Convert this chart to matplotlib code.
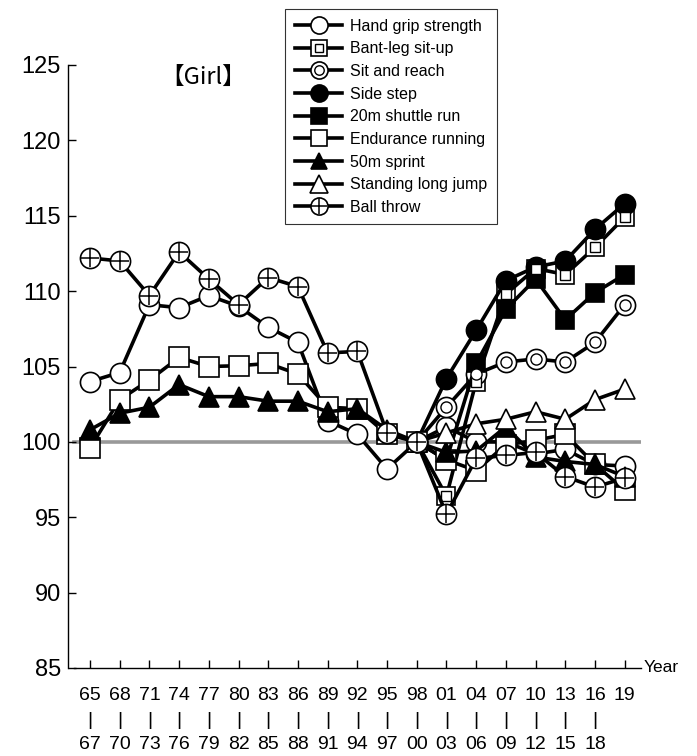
import numpy as np
import matplotlib
matplotlib.use("Agg")
import matplotlib.pyplot as plt
from matplotlib import font_manager
from matplotlib.legend_handler import HandlerTuple

nan = np.nan

year_from = ["65", "68", "71", "74", "77", "80", "83", "86", "89", "92",
             "95", "98", "01", "04", "07", "10", "13", "16", "19"]
year_to = ["67", "70", "73", "76", "79", "82", "85", "88", "91", "94",
           "97", "00", "03", "06", "09", "12", "15", "18", ""]

hand_grip = [104.0, 104.6, 109.1, 108.9, 109.7, 109.0, 107.6, 106.6, 101.4, 100.5,
             98.2, 100.0, 101.0, 100.0, 100.0, 99.2, 99.5, 98.5, 98.4]
situp = [nan] * 11 + [100.0, 96.4, 104.0, 109.8, 111.5, 111.1, 112.9, 114.9]
sit_reach = [nan] * 11 + [100.0, 102.3, 104.5, 105.3, 105.5, 105.3, 106.6, 109.1]
side_step = [nan] * 11 + [100.0, 104.2, 107.4, 110.7, 111.6, 112.0, 114.1, 115.8]
shuttle = [nan] * 11 + [100.0, 98.8, 105.2, 108.8, 110.8, 108.1, 109.9, 111.1]
endurance = [99.6, 102.8, 104.1, 105.6, 105.0, 105.05, 105.2, 104.5, 102.3, 102.2,
             100.5, 100.0, 98.8, 98.1, 99.8, 100.1, 100.5, 98.5, 96.8]
sprint = [100.8, 101.9, 102.3, 103.8, 103.0, 103.0, 102.7, 102.7, 102.0, 102.2,
          100.8, 100.0, 99.3, 99.4, 101.0, 99.0, 98.7, 98.5, 97.7]
long_jump = [nan] * 11 + [100.0, 100.6, 101.2, 101.5, 102.0, 101.5, 102.8, 103.5]
ball_throw = [112.2, 112.0, 109.7, 112.6, 110.8, 109.1, 110.9, 110.3, 105.9, 106.0,
              100.6, 100.0, 95.2, 98.9, 99.1, 99.3, 97.7, 97.0, 97.6]

names = ["Hand grip strength", "Bant-leg sit-up", "Sit and reach", "Side step",
         "20m shuttle run", "Endurance running", "50m sprint",
         "Standing long jump", "Ball throw"]

installed = {f.name for f in font_manager.fontManager.ttflist}
narrow = "Liberation Sans Narrow" if "Liberation Sans Narrow" in installed else "Liberation Sans"
plt.rcParams["font.family"] = ["Liberation Sans", "DejaVu Sans"]

fig = plt.figure(figsize=(6.97, 7.56), dpi=100)
ax = fig.add_axes([68 / 697, 1 - 668 / 756, (641 - 68) / 697, (668 - 65) / 756])

x = np.arange(len(year_from))
LW = 2.6
MS = 14.5

ax.axhline(100, xmin=0.01, xmax=1.0, color="#999999", lw=2.6, zorder=1)


def outer(y, marker, face, ms=MS, z=3):
    return ax.plot(x, y, color="black", lw=LW, marker=marker, ms=ms,
                   mfc=face, mec="black", mew=1.2, zorder=z)[0]


def inner(y, marker, ms, z=3, mew=1.0):
    return ax.plot(x, y, ls="none", marker=marker, ms=ms, mfc="white",
                   mec="black", mew=mew, zorder=z + 0.1)[0]


handles = []
handles.append(outer(hand_grip, "o", "white"))
h1 = outer(situp, "s", "white", ms=13)
h2 = inner(situp, "s", 7)
handles.append((h1, h2))
h1 = outer(sit_reach, "o", "white")
h2 = inner(sit_reach, "o", 8)
handles.append((h1, h2))
handles.append(outer(side_step, "o", "black"))
handles.append(outer(shuttle, "s", "black", ms=13))
handles.append(outer(endurance, "s", "white", ms=14))
handles.append(outer(sprint, "^", "black", ms=14))
handles.append(outer(long_jump, "^", "white", ms=15))
h1 = outer(ball_throw, "o", "white", z=3.5)
h2 = ax.plot(x, ball_throw, ls="none", marker="+", ms=MS - 1.5, mec="black",
             mew=1.1, zorder=3.7)[0]
handles.append((h1, h2))

leg = fig.legend(handles, names, loc="upper left",
                 bbox_to_anchor=(277 / 697, 1 - 1 / 756),
                 handler_map={tuple: HandlerTuple(ndivide=1, pad=0)},
                 frameon=True, fancybox=False, edgecolor="black",
                 fontsize=11.5, handlelength=3.0, labelspacing=0.48,
                 borderpad=0.6, handletextpad=0.5, markerscale=0.85)
leg.get_frame().set_linewidth(0.8)

ax.set_xlim(-0.74, 18.55)
ax.set_ylim(85, 125)
ax.set_yticks(np.arange(85, 126, 5))
ax.tick_params(axis="y", direction="in", length=6, width=1, labelsize=17, pad=5)
ax.set_xticks(x)
ax.set_xticklabels([f"{a}\n|\n{b}" if b else a for a, b in zip(year_from, year_to)],
                   fontsize=14, family=narrow, linespacing=1.55, va="top")
ax.tick_params(axis="x", direction="in", length=6, width=1, pad=14)

for s in ["top", "right"]:
    ax.spines[s].set_visible(False)
ax.spines["left"].set_linewidth(1)
ax.spines["bottom"].set_linewidth(1)
ax.spines["bottom"].set_bounds(-0.55, 18.55)

ax.text(18.65, 85, "Year", fontsize=12.5, family=narrow, va="center", ha="left",
        clip_on=False)
ax.text(3.8, 124.2, "【Girl】", fontsize=17,
        family=["Noto Sans CJK JP", "DejaVu Sans"], va="center", ha="center")

fig.savefig("out.png", dpi=100)
